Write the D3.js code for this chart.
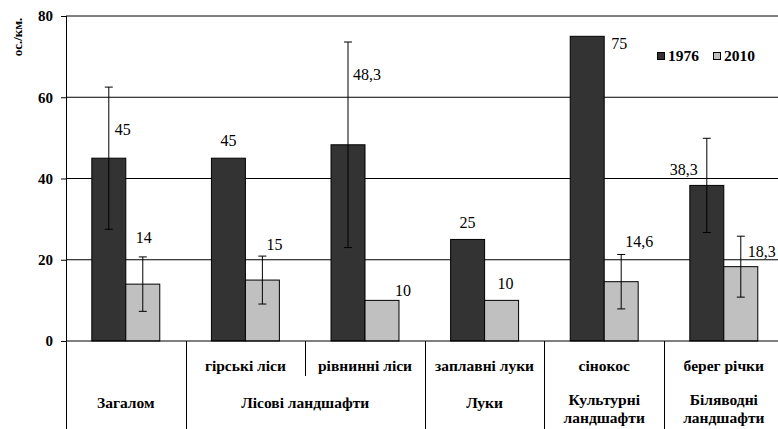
<!DOCTYPE html>
<html>
<head>
<meta charset="utf-8">
<script src="https://cdn.jsdelivr.net/npm/d3@7"></script>
<style>
  body { margin: 0; background: #fff; }
</style>
</head>
<body>
<div id="chart"></div>
<script>
// chart data
const subLabels = ['', 'гірські ліси', 'рівнинні ліси', 'заплавні луки', 'сінокос', 'берег річки'];
const mainLabels = [['Загалом'], ['Лісові ландшафти'], ['Луки'], ['Культурні', 'ландшафти'], ['Біляводні', 'ландшафти']];
const mainSpans = [[0, 0], [1, 2], [3, 3], [4, 4], [5, 5]];
const seriesNames = ['1976', '2010'];
const values1976 = [45, 45, 48.3, 25, 75, 38.3];
const values2010 = [14, 15, 10, 10, 14.6, 18.3];
const err1976 = [17.5, 0, 25.3, 0, 0, 11.6];
const err2010 = [6.7, 5.9, 0, 0, 6.7, 7.5];
const yTicks = [0, 20, 40, 60, 80];

// label nudges (px) relative to bar centre / bar top, as placed in the original
const labelShift1976 = [[14, -23], [0, -12], [19, -65], [0, -11], [32, 13], [-23, -10]];
const labelShift2010 = [[1, -41], [12, -30], [21, -4], [4, -11], [18, -35], [21, -10]];

const width = 778, height = 429;
const FONT = 'Liberation Serif';
const colors = { '1976': '#333333', '2010': '#c0c0c0' };

const svg = d3.select('#chart')
  .append('svg')
  .attr('width', width)
  .attr('height', height)
  .style('display', 'block')
  .style('font-family', FONT);

const idx = d3.range(subLabels.length);

// scales
const x0 = d3.scaleBand()
  .domain(idx)
  .range([66, 66 + 6 * 119.6]);
const x1 = d3.scaleBand()
  .domain(seriesNames)
  .range([0, x0.bandwidth()])
  .paddingOuter(0.76);
const y = d3.scaleLinear()
  .domain([0, 80])
  .range([341, 16]);

// gridlines
svg.append('g')
  .selectAll('line')
  .data(yTicks.filter(d => d > 0))
  .join('line')
  .attr('x1', 66)
  .attr('x2', width)
  .attr('y1', d => y(d))
  .attr('y2', d => y(d))
  .attr('stroke', '#000')
  .attr('stroke-width', 1);

// y axis
const yAxis = svg.append('g')
  .attr('transform', 'translate(66,0)')
  .call(d3.axisLeft(y).tickValues(yTicks).tickSize(5).tickSizeOuter(0).tickPadding(8));
yAxis.select('.domain').remove();
yAxis.attr('font-family', null).attr('font-size', null);
yAxis.selectAll('line').attr('stroke', '#000');
yAxis.selectAll('text')
  .style('font-family', FONT)
  .style('font-size', '15px')
  .style('font-weight', 'bold')
  .attr('fill', '#000');

svg.append('line')
  .attr('x1', 66.5).attr('x2', 66.5)
  .attr('y1', 16).attr('y2', height)
  .attr('stroke', '#000');

svg.append('text')
  .attr('transform', 'translate(22,37) rotate(-90)')
  .attr('text-anchor', 'middle')
  .style('font-family', FONT)
  .style('font-size', '13px')
  .style('font-weight', 'bold')
  .text('ос./км.');

// bars
const barData = [];
idx.forEach(i => {
  barData.push({ i, s: '1976', v: values1976[i], e: err1976[i], shift: labelShift1976[i] });
  barData.push({ i, s: '2010', v: values2010[i], e: err2010[i], shift: labelShift2010[i] });
});

svg.append('g')
  .selectAll('rect')
  .data(barData)
  .join('rect')
  .attr('x', d => x0(d.i) + x1(d.s))
  .attr('y', d => y(d.v))
  .attr('width', x1.bandwidth())
  .attr('height', d => y(0) - y(d.v))
  .attr('fill', d => colors[d.s])
  .attr('stroke', '#000')
  .attr('stroke-width', 1);

// x axis baseline
svg.append('line')
  .attr('x1', 66).attr('x2', width)
  .attr('y1', 341).attr('y2', 341)
  .attr('stroke', '#000');

// error bars
const errs = svg.append('g')
  .selectAll('g')
  .data(barData.filter(d => d.e > 0))
  .join('g')
  .attr('transform', d => `translate(${x0(d.i) + x1(d.s) + x1.bandwidth() / 2},0)`);
errs.append('line')
  .attr('y1', d => y(d.v + d.e))
  .attr('y2', d => y(d.v - d.e))
  .attr('stroke', '#000');
errs.selectAll('.cap')
  .data(d => [d.v + d.e, d.v - d.e])
  .join('line')
  .attr('class', 'cap')
  .attr('x1', -4).attr('x2', 4)
  .attr('y1', d => y(d)).attr('y2', d => y(d))
  .attr('stroke', '#000');

// value labels
svg.append('g')
  .selectAll('text')
  .data(barData)
  .join('text')
  .attr('x', d => x0(d.i) + x1(d.s) + x1.bandwidth() / 2 + d.shift[0])
  .attr('y', d => y(d.v) + d.shift[1])
  .attr('text-anchor', 'middle')
  .style('font-family', FONT)
  .style('font-size', '16px')
  .attr('fill', '#000')
  .text(d => String(d.v).replace('.', ','));

// category table under the axis
const sep = svg.append('g');
idx.slice(1).forEach(i => {
  const full = mainSpans.some(s => s[0] === i);
  sep.append('line')
    .attr('x1', Math.round(x0(i)) + 0.5).attr('x2', Math.round(x0(i)) + 0.5)
    .attr('y1', 341).attr('y2', full ? height : 376)
    .attr('stroke', '#000');
});

svg.append('g')
  .selectAll('text')
  .data(idx.filter(i => subLabels[i]))
  .join('text')
  .attr('x', i => x0(i) + x0.bandwidth() / 2)
  .attr('y', 371)
  .attr('text-anchor', 'middle')
  .style('font-family', FONT)
  .style('font-size', '15.5px')
  .style('font-weight', 'bold')
  .text(i => subLabels[i]);

const main = svg.append('g')
  .selectAll('text')
  .data(mainLabels)
  .join('text')
  .attr('text-anchor', 'middle')
  .style('font-family', FONT)
  .style('font-size', '15.5px')
  .style('font-weight', 'bold')
  .attr('y', d => d.length > 1 ? 405 : 408);
main.selectAll('tspan')
  .data((d, k) => d.map(t => ({ t, k })))
  .join('tspan')
  .attr('x', d => (x0(mainSpans[d.k][0]) + x0(mainSpans[d.k][1]) + x0.bandwidth()) / 2)
  .attr('dy', (d, j) => j ? 18 : 0)
  .text(d => d.t);

// legend
const legend = svg.append('g')
  .attr('transform', 'translate(657,52)');
const items = legend.selectAll('g')
  .data(seriesNames)
  .join('g')
  .attr('transform', (d, j) => `translate(${j * 56},0)`);
items.append('rect')
  .attr('width', 7).attr('height', 7)
  .attr('x', 0.5).attr('y', 0.5)
  .attr('fill', d => colors[d])
  .attr('stroke', '#000');
items.append('text')
  .attr('x', 11)
  .attr('y', 9)
  .style('font-family', FONT)
  .style('font-size', '15.5px')
  .style('font-weight', 'bold')
  .text(d => d);
</script>
</body>
</html>
